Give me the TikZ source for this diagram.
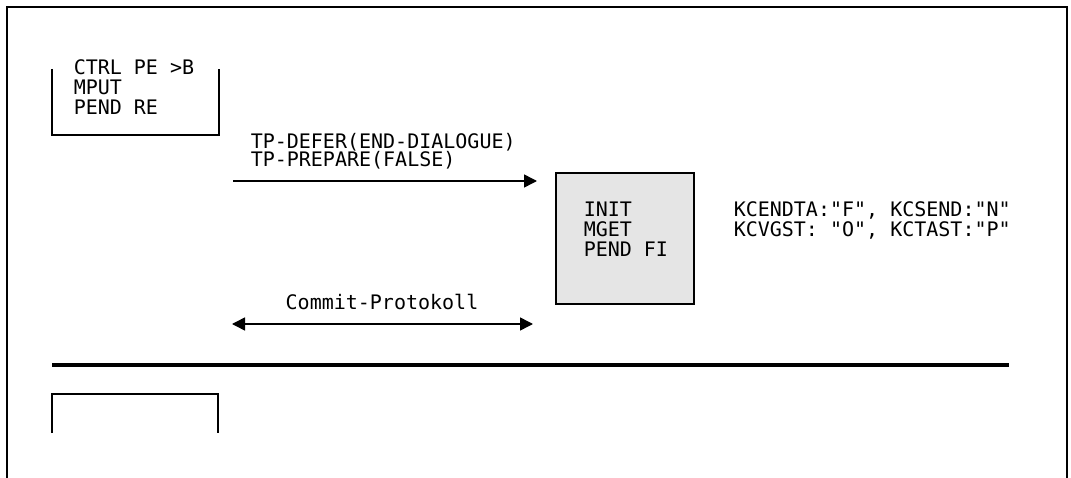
\documentclass[tikz,border=0pt]{standalone}
\usepackage{fontspec}
\newfontfamily\listfont{DejaVu Sans Mono}
\usetikzlibrary{arrows.meta}

\begin{document}
\begin{tikzpicture}[x=1pt,y=-1pt,line width=1.5pt,
  listing/.style={anchor=base west,inner sep=0pt,
    font=\listfont\fontsize{20}{20}\selectfont},
  msgtip/.tip={Triangle[length=13pt,width=13pt]},
  msg/.style={-msgtip}]
  \useasboundingbox (0,0) rectangle (1071,478);
  % frame, open at the bottom
  \draw[line width=1.3pt] (7,478) -- (7,7) -- (1067,7) -- (1067,478);
  % program unit before PEND RE
  \draw (52,69) -- (52,135) -- (219,135) -- (219,69);
  \foreach \txt [count=\i] in {CTRL PE >B,MPUT,PEND RE}
    \node[listing] (pgmA\i) at (73,{55+20*\i}) {\txt};
  % message to the new transaction
  \foreach \txt [count=\i] in {TP-DEFER(END-DIALOGUE),TP-PREPARE(FALSE)}
    \node[listing] (defer\i) at (250,{131+18*\i}) {\txt};
  \coordinate (deferL) at (233,181);
  \coordinate (deferR) at (537,181);
  \draw[msg] (deferL) -- (deferR);
  % receiving program unit
  \node[draw,fill=black!10,minimum width=138pt,minimum height=131pt,inner sep=0pt] (tb) at (625,238.5) {};
  \foreach \txt [count=\i] in {INIT,MGET,PEND FI}
    \node[listing] (tb\i) at (583,{197+20*\i}) {\txt};
  \foreach \txt [count=\i] in {{KCENDTA:"F", KCSEND:"N"},{KCVGST: "O", KCTAST:"P"}}
    \node[listing] (kb\i) at (733,{197+20*\i}) {\txt};
  % commit protocol
  \coordinate (commitL) at (232,324);
  \coordinate (commitR) at (533,324);
  \draw[msgtip-msgtip] (commitL) -- (commitR);
  \node[listing,anchor=base] (commit) at (382,310) {Commit-Protokoll};
  % end of transaction
  \draw[line width=4pt] (52,365) -- (1009,365);
  \draw (52,433) -- (52,394) -- (218,394) -- (218,433);
\end{tikzpicture}
\end{document}
